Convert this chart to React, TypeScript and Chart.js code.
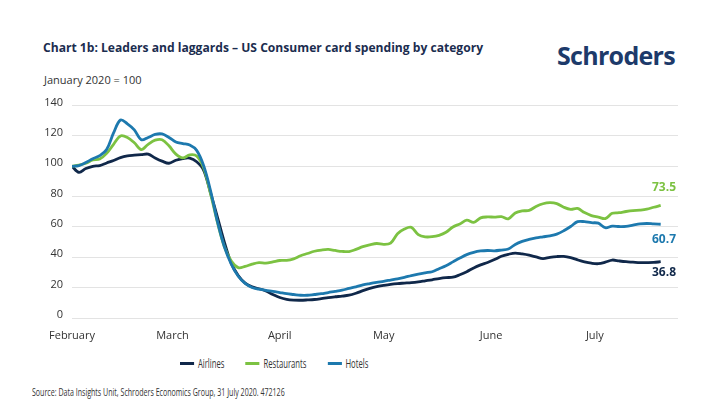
import { useEffect, useRef } from "react"
import { Chart, registerables } from "chart.js"

Chart.register(...registerables)

// one reading every 2 days, starting 1 February 2020
const STEP_DAYS = 2
const monthStarts = [0, 29, 60, 90, 121, 151]
const monthLabels = ["February", "March", "April", "May", "June", "July"]

const seriesNames = ["Airlines", "Restaurants", "Hotels"]
const seriesColors = ["#10284a", "#7cc242", "#1d79ae"]
const endValues = ["36.8", "73.5", "60.7"]

const airlines = [
  100, 96, 98.5, 100, 100.5, 102.2, 103.8, 105.7, 106.8, 107.3,
  107.7, 108, 105.5, 103.4, 102, 104, 105.1, 105.4, 103, 97.5,
  82.5, 66.5, 50, 36, 28, 23, 20.5, 19.3, 17.8, 15.5,
  13.5, 12.3, 11.8, 11.7, 11.9, 12.2, 12.8, 13.5, 14, 14.4,
  15, 16.3, 18, 19.5, 20.7, 21.5, 22.2, 22.7, 23, 23.3,
  23.8, 24.5, 25.2, 26, 26.6, 26.9, 28.5, 30.5, 33, 35,
  36.6, 38.5, 40.7, 42, 42.8, 42.2, 41.4, 40.3, 39.2, 40,
  40.5, 40.6, 39.8, 38.3, 37, 36.1, 35.8, 36.8, 38.2, 37.6,
  37.1, 36.8, 36.5, 36.5, 36.6, 37.1,
]

const restaurants = [
  100, 100.8, 102, 104.2, 104.8, 108.5, 114.5, 120, 119, 115.5,
  111, 114.5, 117.2, 117.5, 113.5, 108, 105.5, 107.5, 106.8, 99,
  82, 63, 47, 37.5, 33.2, 34, 35.5, 36.5, 36.2, 37,
  37.9, 38, 39, 41, 42.5, 44, 44.8, 45.2, 44.5, 43.9,
  43.8, 45.2, 47, 48.2, 49.1, 48.5, 49.3, 55.5, 58.6, 59.7,
  55, 53.5, 53.6, 54.5, 56.5, 60, 62, 64.5, 63, 66,
  66.6, 66.5, 66.8, 65.4, 69.2, 70.6, 70.9, 73.5, 75.3, 76,
  75.4, 73, 71.6, 72.2, 69.5, 67.5, 66.5, 65.5, 69, 69.4,
  70.2, 70.8, 71.1, 71.7, 73, 74.2,
]

const hotels = [
  100, 100.5, 102.5, 105, 107, 111, 122, 130.5, 128, 124,
  117.5, 119, 121, 121.3, 119, 116, 115, 114, 110.5, 100.5,
  84, 63.5, 47, 35.5, 27.5, 22.8, 20.1, 19, 18.2, 17.6,
  16.8, 16, 15.5, 15, 15, 15.5, 16, 16.8, 17.5, 18.3,
  19.5, 20.5, 21.8, 22.7, 23.5, 24.2, 25, 25.8, 26.8, 28,
  29, 29.8, 30.5, 32.5, 34.5, 37, 39.5, 41.8, 43.3, 44.2,
  44.5, 44.3, 44.8, 45.5, 48.5, 50.5, 51.8, 52.8, 53.5, 54.2,
  55.3, 57.5, 60.3, 63.5, 63.5, 62.8, 62.5, 59.5, 60.5, 60.3,
  60.4, 61.2, 62, 62.3, 62, 61.8,
]

const seriesValues = [airlines, restaurants, hotels]

// vertical shift of each end label from the last point, in px
const endLabelShift = [10.5, -17.5, 15.5]

const endLabelPlugin = {
  id: "endLabels",
  afterDatasetsDraw(chart: any) {
    const ctx = chart.ctx
    ctx.save()
    ctx.font = "bold 12px 'Open Sans'"
    ctx.textAlign = "right"
    ctx.textBaseline = "middle"
    chart.data.datasets.forEach((ds: any, i: number) => {
      const meta = chart.getDatasetMeta(i)
      const last = meta.data[meta.data.length - 1]
      if (!last) return
      ctx.fillStyle = ds.borderColor
      ctx.fillText(endValues[i], chart.chartArea.right - 2, last.y + endLabelShift[i])
    })
    ctx.restore()
  },
}

export default function App() {
  const canvasRef = useRef<HTMLCanvasElement>(null)

  useEffect(() => {
    document.body.style.margin = "0"
    if (!canvasRef.current) return

    const chart = new Chart(canvasRef.current, {
      type: "line",
      data: {
        datasets: seriesNames.map((name, i) => ({
          label: name,
          data: seriesValues[i].map((v, k) => ({ x: k * STEP_DAYS, y: v })),
          borderColor: seriesColors[i],
          backgroundColor: seriesColors[i],
          borderWidth: 2.8,
          pointRadius: 0,
          tension: 0.35,
          order: 3 - i,
        })),
      },
      options: {
        animation: false,
        responsive: false,
        maintainAspectRatio: false,
        layout: { padding: { left: 0, right: 39, top: 15, bottom: 0 } },
        plugins: {
          legend: { display: false },
          tooltip: { enabled: false },
        },
        scales: {
          x: {
            type: "linear",
            min: 0,
            max: 175,
            grid: { display: false, drawTicks: false },
            border: { display: false },
            afterBuildTicks: (scale: any) => {
              scale.ticks = monthStarts.map((v) => ({ value: v }))
            },
            afterFit: (scale: any) => {
              scale.height = 32
            },
            ticks: {
              padding: 11,
              autoSkip: false,
              maxRotation: 0,
              color: "#333333",
              font: { family: "'Open Sans'", size: 11 },
              callback: (_v: any, idx: number) => monthLabels[idx],
            },
          },
          y: {
            min: 0,
            max: 140,
            grid: { color: "#e3e3e3", lineWidth: 1, drawTicks: false },
            border: { display: false },
            afterFit: (scale: any) => {
              scale.width = 72
            },
            ticks: {
              stepSize: 20,
              padding: 9,
              labelOffset: -3,
              color: "#333333",
              font: { family: "'Open Sans'", size: 11 },
            },
          },
        },
      },
      plugins: [endLabelPlugin],
    })

    return () => chart.destroy()
  }, [])

  return (
    <div
      style={{
        position: "fixed",
        left: 0,
        top: 0,
        width: 717,
        height: 414,
        background: "#ffffff",
        overflow: "hidden",
        fontFamily: "'Open Sans', sans-serif",
      }}
    >
      <div
        style={{
          position: "absolute",
          left: 43,
          top: 39,
          fontSize: 12.1,
          fontWeight: 700,
          color: "#1b2d4f",
          whiteSpace: "nowrap",
        }}
      >
        Chart 1b: Leaders and laggards – US Consumer card spending by category
      </div>
      <div
        style={{
          position: "absolute",
          left: 557,
          top: 39,
          fontSize: 25,
          fontWeight: 700,
          color: "#1d3a6a",
          letterSpacing: -0.7,
          lineHeight: "32px",
        }}
      >
        Schroders
      </div>
      <div
        style={{
          position: "absolute",
          left: 44,
          top: 72,
          fontSize: 11,
          color: "#333333",
          whiteSpace: "nowrap",
        }}
      >
        January 2020 = 100
      </div>
      <canvas
        ref={canvasRef}
        width={717}
        height={260}
        style={{ position: "absolute", left: 0, top: 90, width: 717, height: 260 }}
      />
      <div
        style={{
          position: "absolute",
          left: 180,
          top: 355,
          display: "flex",
          alignItems: "center",
          gap: 33,
          fontSize: 12,
          color: "#333333",
          whiteSpace: "nowrap",
          transform: "scaleX(0.64)",
          transformOrigin: "left center",
        }}
      >
        {seriesNames.map((name, i) => (
          <div key={name} style={{ display: "flex", alignItems: "center" }}>
            <span
              style={{
                display: "inline-block",
                width: 22,
                height: 2.5,
                background: seriesColors[i],
                marginRight: 6,
              }}
            />
            <span>{name}</span>
          </div>
        ))}
      </div>
      <div
        style={{
          position: "absolute",
          left: 32,
          top: 385,
          fontSize: 10.4,
          color: "#333333",
          whiteSpace: "nowrap",
          transform: "scaleX(0.68)",
          transformOrigin: "left center",
        }}
      >
        Source: Data Insights Unit, Schroders Economics Group, 31 July 2020. 472126
      </div>
    </div>
  )
}
